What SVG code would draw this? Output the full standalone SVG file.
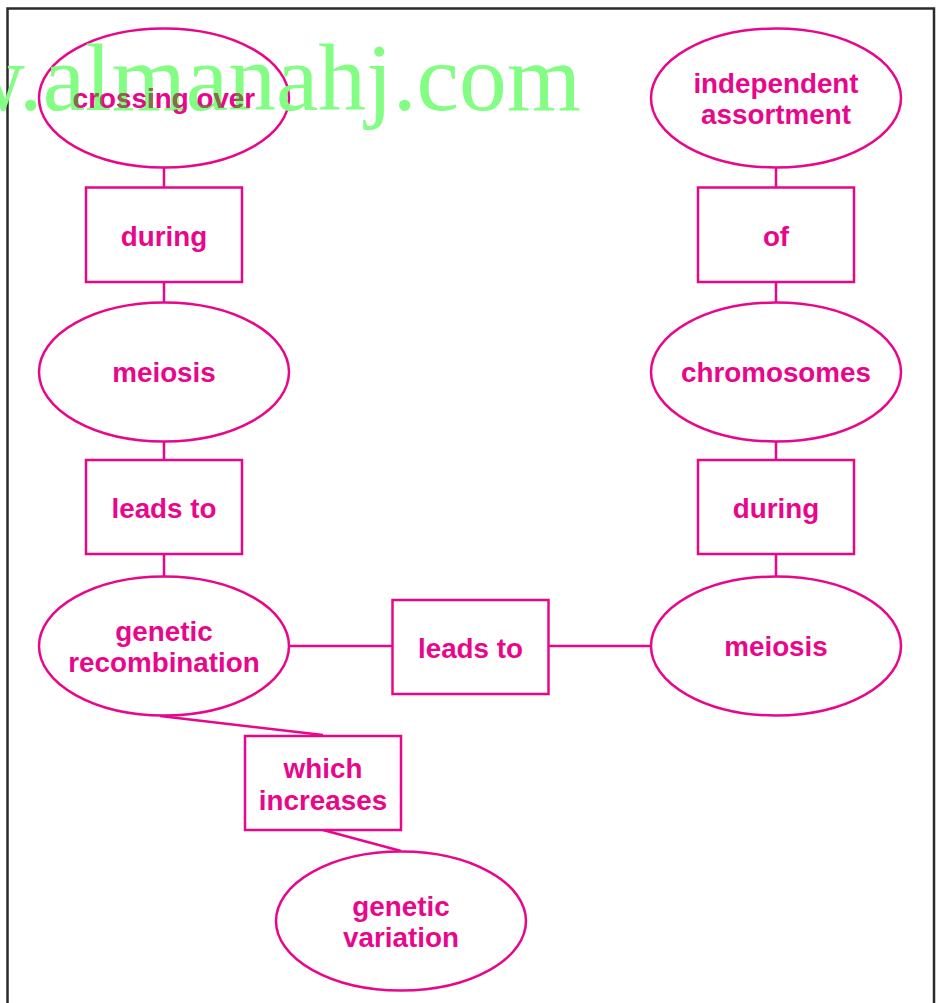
<svg xmlns="http://www.w3.org/2000/svg" width="944" height="1003" viewBox="0 0 944 1003">
  <style>
    .shape { fill: #ffffff; stroke: #e8078a; stroke-width: 2.5; }
    .link { fill: none; stroke: #e8078a; stroke-width: 2.5; }
    .label { font-family: "Liberation Sans", Arial, sans-serif; font-weight: bold; font-size: 27.8px; fill: #e8078a; text-anchor: middle; }
    .mark { font-family: "Liberation Serif", "Times New Roman", serif; font-size: 95.5px; fill: #84fd84; }
  </style>
  <defs>
    <clipPath id="markClip">
      <text class="mark" x="-44" y="110">w.almanahj.com</text>
    </clipPath>
  </defs>

  <rect x="0" y="0" width="944" height="1003" fill="#ffffff"/>
  <!-- page frame -->
  <path d="M7.5 1010 V8.5 H934 V1010" fill="none" stroke="#2b2b2b" stroke-width="2.5"/>

  <!-- connectors -->
  <g id="connectors">
    <line class="link" x1="164" y1="168" x2="164" y2="187"/>
    <line class="link" x1="164" y1="282" x2="164" y2="302"/>
    <line class="link" x1="164" y1="441" x2="164" y2="460"/>
    <line class="link" x1="164" y1="554" x2="164" y2="577"/>
    <line class="link" x1="776" y1="168" x2="776" y2="187"/>
    <line class="link" x1="776" y1="282" x2="776" y2="302"/>
    <line class="link" x1="776" y1="441" x2="776" y2="460"/>
    <line class="link" x1="776" y1="554" x2="776" y2="577"/>
    <line class="link" x1="289" y1="646" x2="392" y2="646"/>
    <line class="link" x1="549" y1="646" x2="651" y2="646"/>
    <line class="link" x1="160" y1="716" x2="323" y2="735"/>
    <line class="link" x1="323" y1="830" x2="401" y2="851"/>
  </g>

  <!-- left column -->
  <g id="crossing-over">
    <ellipse class="shape" cx="164" cy="98" rx="125" ry="69.5"/>
  </g>
  <g id="during-left">
    <rect class="shape" x="86" y="187.5" width="156" height="94.5"/>
    <text class="label" x="164" y="246">during</text>
  </g>
  <g id="meiosis-left">
    <ellipse class="shape" cx="164" cy="372" rx="125" ry="69.5"/>
    <text class="label" x="164" y="382">meiosis</text>
  </g>
  <g id="leads-to-left">
    <rect class="shape" x="86" y="460" width="156" height="94"/>
    <text class="label" x="164" y="518">leads to</text>
  </g>
  <g id="genetic-recombination">
    <ellipse class="shape" cx="164" cy="646" rx="125" ry="69.5"/>
    <text class="label" x="164" y="641">genetic</text>
    <text class="label" x="164" y="672">recombination</text>
  </g>

  <!-- middle -->
  <g id="leads-to-middle">
    <rect class="shape" x="392.5" y="600" width="156" height="94"/>
    <text class="label" x="470.5" y="658">leads to</text>
  </g>
  <g id="which-increases">
    <rect class="shape" x="245" y="736" width="156" height="94"/>
    <text class="label" x="323" y="778">which</text>
    <text class="label" x="323" y="810">increases</text>
  </g>
  <g id="genetic-variation">
    <ellipse class="shape" cx="401" cy="921" rx="125" ry="69.5"/>
    <text class="label" x="401" y="916">genetic</text>
    <text class="label" x="401" y="947">variation</text>
  </g>

  <!-- right column -->
  <g id="independent-assortment">
    <ellipse class="shape" cx="776" cy="98" rx="125" ry="69.5"/>
    <text class="label" x="776" y="93">independent</text>
    <text class="label" x="776" y="124">assortment</text>
  </g>
  <g id="of">
    <rect class="shape" x="698" y="187.5" width="156" height="94.5"/>
    <text class="label" x="776" y="246">of</text>
  </g>
  <g id="chromosomes">
    <ellipse class="shape" cx="776" cy="372" rx="125" ry="69.5"/>
    <text class="label" x="776" y="382">chromosomes</text>
  </g>
  <g id="during-right">
    <rect class="shape" x="698" y="460" width="156" height="94"/>
    <text class="label" x="776" y="518">during</text>
  </g>
  <g id="meiosis-right">
    <ellipse class="shape" cx="776" cy="646" rx="125" ry="69.5"/>
    <text class="label" x="776" y="656">meiosis</text>
  </g>

  <!-- site watermark over the page -->
  <text class="mark" x="-44" y="110">w.almanahj.com</text>
  <!-- crossing over label: magenta, darkened where the watermark covers it -->
  <text class="label" x="164" y="108">crossing over</text>
  <text class="label" x="164" y="108" style="fill:#7b7446" clip-path="url(#markClip)">crossing over</text>
</svg>
